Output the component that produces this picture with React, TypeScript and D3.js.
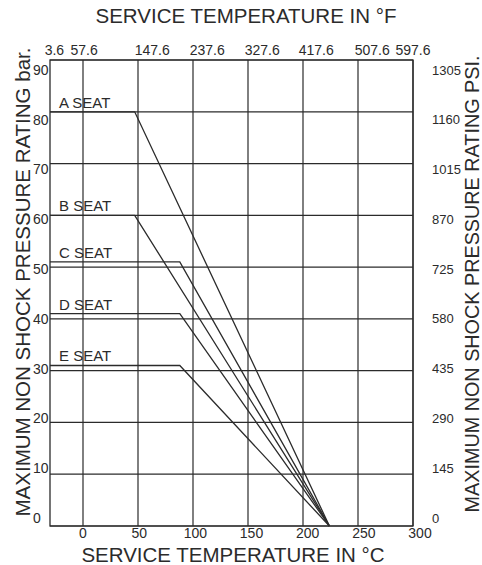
import { useEffect, useRef } from 'react';
import * as d3 from 'd3';

// bottom axis, °C
const celsiusTicks = [0, 50, 100, 150, 200, 250, 300];
// top axis, °F labels and the °C position where each one sits
const fahrenheitLabels = ['3.6', '57.6', '147.6', '237.6', '327.6', '417.6', '507.6', '597.6'];
const fahrenheitAt = [-26, 1, 63, 113, 163, 212, 263, 300];
// left axis bar, right axis PSI
const barTicks = [0, 10, 20, 30, 40, 50, 60, 70, 80, 90];
const psiLabels = ['0', '145', '290', '435', '580', '725', '870', '1015', '1160', '1305'];

// seat curves: flat rating up to the knee temperature, then down to zero
const seatNames = ['A SEAT', 'B SEAT', 'C SEAT', 'D SEAT', 'E SEAT'];
const seatRating = [80, 60, 51, 41, 31];
const seatKnee = [47, 47, 88, 88, 88];
const zeroRatingTemp = 224;

export default function App() {
  const svgRef = useRef<SVGSVGElement>(null);

  useEffect(() => {
    if (!svgRef.current) return;
    const svg = d3.select(svgRef.current);
    svg.selectAll('*').remove();

    const ink = '#2b2b2b';
    const font = '"Liberation Sans", Arial, sans-serif';
    const left = 50, right = 413, top = 60, bottom = 526;

    const x = d3.scaleLinear().domain([-30, 300]).range([left, right]);
    const y = d3.scaleLinear().domain([0, 90]).range([bottom, top]);
    // the printed labels drift a little from the grid
    const xLabel = d3.scaleLinear().domain([0, 300]).range([x(0), x(300) + 7]);
    const yLabel = d3.scaleLinear().domain([0, 90]).range([518, 70]);

    const g = svg.append('g');

    // grid
    g.selectAll('line.v')
      .data(celsiusTicks)
      .enter()
      .append('line')
      .attr('x1', d => x(d)).attr('x2', d => x(d))
      .attr('y1', top).attr('y2', bottom)
      .attr('stroke', ink).attr('stroke-width', 1.2);

    g.selectAll('line.h')
      .data(barTicks)
      .enter()
      .append('line')
      .attr('x1', left).attr('x2', right)
      .attr('y1', d => y(d)).attr('y2', d => y(d))
      .attr('stroke', ink).attr('stroke-width', 1.2);

    g.append('rect')
      .attr('x', left).attr('y', top)
      .attr('width', right - left).attr('height', bottom - top)
      .attr('fill', 'none').attr('stroke', ink).attr('stroke-width', 1.3);

    // seat curves
    const line = d3.line<[number, number]>().x(d => x(d[0])).y(d => y(d[1]));
    seatNames.forEach((name, i) => {
      const pts: [number, number][] = [
        [-30, seatRating[i]],
        [seatKnee[i], seatRating[i]],
        [zeroRatingTemp, 0],
      ];
      g.append('path')
        .attr('d', line(pts))
        .attr('fill', 'none')
        .attr('stroke', ink)
        .attr('stroke-width', 1.3);

      g.append('text')
        .attr('x', x(-30) + 9)
        .attr('y', y(seatRating[i]) - 4)
        .attr('font-family', font)
        .attr('font-size', 15)
        .attr('fill', ink)
        .text(name);
    });

    // tick labels
    g.selectAll('text.c')
      .data(celsiusTicks)
      .enter()
      .append('text')
      .attr('x', d => xLabel(d))
      .attr('y', 538)
      .attr('text-anchor', 'middle')
      .attr('font-family', font).attr('font-size', 14).attr('fill', ink)
      .text(d => d);

    g.selectAll('text.f')
      .data(fahrenheitLabels)
      .enter()
      .append('text')
      .attr('x', (d, i) => x(fahrenheitAt[i]))
      .attr('y', 55)
      .attr('text-anchor', 'middle')
      .attr('font-family', font).attr('font-size', 14).attr('fill', ink)
      .text(d => d);

    g.selectAll('text.bar')
      .data(barTicks)
      .enter()
      .append('text')
      .attr('x', 33)
      .attr('y', d => yLabel(d))
      .attr('dy', '0.35em')
      .attr('font-family', font).attr('font-size', 14).attr('fill', ink)
      .text(d => d);

    g.selectAll('text.psi')
      .data(psiLabels)
      .enter()
      .append('text')
      .attr('x', 432)
      .attr('y', (d, i) => yLabel(barTicks[i]))
      .attr('dy', '0.35em')
      .attr('font-family', font).attr('font-size', 13).attr('fill', ink)
      .text(d => d);

    // axis titles
    g.append('text')
      .attr('x', 246).attr('y', 23)
      .attr('text-anchor', 'middle')
      .attr('font-family', font).attr('font-size', 20.5).attr('fill', ink)
      .text('SERVICE TEMPERATURE IN °F');

    g.append('text')
      .attr('x', 233).attr('y', 562)
      .attr('text-anchor', 'middle')
      .attr('font-family', font).attr('font-size', 20.5).attr('fill', ink)
      .text('SERVICE TEMPERATURE IN °C');

    g.append('text')
      .attr('transform', 'translate(30,282) rotate(-90)')
      .attr('text-anchor', 'middle')
      .attr('font-family', font).attr('font-size', 20.5).attr('fill', ink)
      .text('MAXIMUM NON SHOCK PRESSURE RATING bar.');

    g.append('text')
      .attr('transform', 'translate(479,284) rotate(-90)')
      .attr('text-anchor', 'middle')
      .attr('font-family', font).attr('font-size', 19.8).attr('fill', ink)
      .text('MAXIMUM NON SHOCK PRESSURE RATING PSI.');
  }, []);

  return (
    <svg
      ref={svgRef}
      width={482}
      height={565}
      style={{ position: 'absolute', left: 0, top: 0, background: '#fff' }}
    />
  );
}
